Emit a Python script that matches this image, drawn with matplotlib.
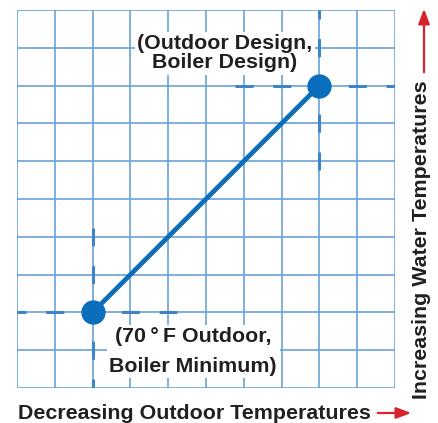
import matplotlib.pyplot as plt
from matplotlib.patches import FancyArrowPatch

# reset curve endpoints (grid units)
curve_x = [2, 8]
curve_y = [2, 8]
point_labels = ['(70\u2009\u00b0\u2009F Outdoor,\nBoiler Minimum)', '(Outdoor Design,\nBoiler Design)']
x_label = 'Decreasing Outdoor Temperatures'
y_label = 'Increasing Water Temperatures'

grid_color = '#6aa2d8'
dash_color = '#3f84c6'
line_color = '#0a6ebd'
text_color = '#231f20'
arrow_color = '#d7232a'

plt.rcParams['font.family'] = ['Liberation Sans', 'DejaVu Sans']
plt.rcParams['lines.scale_dashes'] = False

fig = plt.figure(figsize=(4.39, 4.23), dpi=100)
ax = fig.add_axes([17/439, 35/423, 378/439, 378/423])
ax.set_xlim(0, 10)
ax.set_ylim(0, 10)

# grid
for i in range(11):
    ax.axvline(i, color=grid_color, lw=1.2, zorder=1)
    ax.axhline(i, color=grid_color, lw=1.2, zorder=1)
for s in ax.spines.values():
    s.set_visible(False)
ax.set_xticks([])
ax.set_yticks([])

# dashed guide lines: dashes centred on grid lines (one cell = 27.2 pt)
on, off = 13.0, 14.2
half = 0.24
ax.plot([0, 4 + half], [curve_y[0], curve_y[0]], color=dash_color, lw=2.2,
        linestyle=(on / 2, (on, off)), zorder=2)
ax.plot([curve_x[0], curve_x[0]], [0, 4 + half], color=dash_color, lw=2.2,
        linestyle=(on / 2, (on, off)), zorder=2)
ax.plot([6 - half, 10], [curve_y[1], curve_y[1]], color=dash_color, lw=2.2,
        linestyle=(0, (on, off)), zorder=2)
ax.plot([curve_x[1], curve_x[1]], [6 - half, 10], color=dash_color, lw=2.2,
        linestyle=(0, (on, off)), zorder=2)

# curve
ax.plot(curve_x, curve_y, color=line_color, lw=3.4, zorder=4,
        marker='o', markersize=16.5, solid_capstyle='butt')

# labels
box = dict(boxstyle='square,pad=0.12', fc='white', ec='none')
ax.text(5.5, 8.85, point_labels[1], ha='center', va='center', fontsize=15.4,
        fontweight='bold', color=text_color, bbox=box, linespacing=1.0, zorder=3)
ax.text(4.66, 0.97, point_labels[0], ha='center', va='center', fontsize=15.4,
        fontweight='bold', color=text_color, bbox=box, linespacing=1.7, zorder=3)

# axis titles
fig.text(18/439, 1 - 419/423, x_label, ha='left', va='baseline', fontsize=15.4,
         fontweight='bold', color=text_color)
fig.text(422/439, 1 - 240/423, y_label, ha='center', va='center', fontsize=15.4,
         fontweight='bold', color=text_color, rotation=90)

# red arrows
astyle = '-|>,head_length=9,head_width=3.4'
fig.patches.append(FancyArrowPatch((375/439, 1 - 413/423), (414/439, 1 - 413/423),
                   transform=fig.transFigure, arrowstyle=astyle,
                   color=arrow_color, lw=1.6, mutation_scale=1))
fig.patches.append(FancyArrowPatch((424/439, 1 - 75/423), (424/439, 1 - 6/423),
                   transform=fig.transFigure, arrowstyle=astyle,
                   color=arrow_color, lw=1.6, mutation_scale=1))

fig.savefig('out.png', dpi=100)
